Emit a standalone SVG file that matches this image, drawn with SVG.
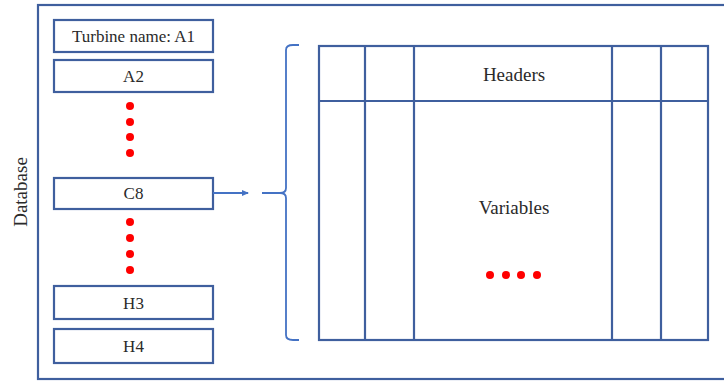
<svg xmlns="http://www.w3.org/2000/svg" width="724" height="381" viewBox="0 0 724 381">
<style>
.box{fill:#fff;stroke:#3f5f9e;stroke-width:2.2}
.ln{stroke:#3f5f9e;stroke-width:2.2;fill:none}
.lt{stroke:#4472c4;stroke-width:1.8;fill:none}
.t{font-family:"Liberation Serif",serif;font-size:17px;fill:#2a2a2a;text-anchor:middle}
.tl{font-size:19px}
.dot{fill:#ff0000}
</style>
<defs>
<marker id="ah" markerWidth="8" markerHeight="8" refX="6" refY="4" orient="auto" markerUnits="userSpaceOnUse">
<path d="M0,1 L7,4 L0,7 Z" fill="#4472c4"/>
</marker>
</defs>
<rect width="724" height="381" fill="#fff"/>
<g id="database">
<rect x="38" y="5" width="700" height="374" class="ln"/>
<text class="t tl" transform="translate(27,192) rotate(-90)">Database</text>
</g>
<g id="A1"><rect class="box" x="54" y="20" width="159" height="32"/><text class="t" x="133.5" y="42">Turbine name: A1</text></g>
<g id="A2"><rect class="box" x="54" y="60" width="159" height="32"/><text class="t" x="133.5" y="82">A2</text></g>
<g id="dots1"><circle class="dot" cx="130" cy="106" r="4"/><circle class="dot" cx="130" cy="122" r="4"/><circle class="dot" cx="130" cy="137" r="4"/><circle class="dot" cx="130" cy="153" r="4"/></g>
<g id="C8"><rect class="box" x="54" y="178" width="159" height="31"/><text class="t" x="133.5" y="199">C8</text></g>
<g id="dots2"><circle class="dot" cx="130" cy="222" r="4"/><circle class="dot" cx="130" cy="238" r="4"/><circle class="dot" cx="130" cy="254" r="4"/><circle class="dot" cx="130" cy="270" r="4"/></g>
<g id="H3"><rect class="box" x="54" y="286" width="159" height="33"/><text class="t" x="133.5" y="309">H3</text></g>
<g id="H4"><rect class="box" x="54" y="329" width="159" height="34"/><text class="t" x="133.5" y="352">H4</text></g>
<g id="connectors">
<line class="lt" x1="213" y1="193" x2="248" y2="193" marker-end="url(#ah)"/>
<path class="lt" d="M262,193 H280 Q286,193 286,188 V50 Q286,45 293,45 H299 M280,193 Q286,193 286,198 V335 Q286,340 293,340 H299"/>
</g>
<g id="table">
<rect class="ln" x="319" y="46" width="389" height="294"/>
<line class="ln" x1="319" y1="101" x2="708" y2="101"/>
<line class="ln" x1="365" y1="46" x2="365" y2="340"/>
<line class="ln" x1="414" y1="46" x2="414" y2="340"/>
<line class="ln" x1="612" y1="46" x2="612" y2="340"/>
<line class="ln" x1="661" y1="46" x2="661" y2="340"/>
<text class="t tl" x="514" y="81">Headers</text>
<text class="t tl" x="514" y="214">Variables</text>
<circle class="dot" cx="490" cy="275" r="4"/><circle class="dot" cx="506" cy="275" r="4"/><circle class="dot" cx="521" cy="275" r="4"/><circle class="dot" cx="537" cy="275" r="4"/>
</g>
</svg>
